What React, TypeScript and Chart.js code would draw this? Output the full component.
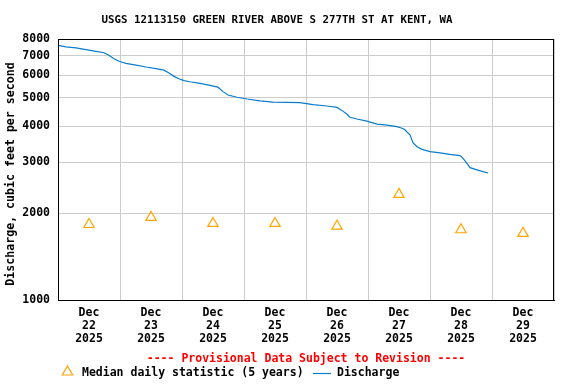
import React, { useEffect, useRef } from "react";
import { Chart, registerables } from "chart.js";

Chart.register(...registerables);

const TITLE = "USGS 12113150 GREEN RIVER ABOVE S 277TH ST AT KENT, WA";
const Y_TITLE = "Discharge, cubic feet per second";
const FOOTER = "---- Provisional Data Subject to Revision ----";
const LEGEND_MEDIAN = "Median daily statistic (5 years)";
const LEGEND_Q = "Discharge";

const dayMonth = "Dec";
const dayNumbers = ["22", "23", "24", "25", "26", "27", "28", "29"];
const dayYear = "2025";

const yTicks = [1000, 2000, 3000, 4000, 5000, 6000, 7000, 8000];

// median daily statistic at noon of each day (hours since Dec 22 00:00)
const medianHours = [12, 36, 60, 84, 108, 132, 156, 180];
const medianCfs = [1825, 1930, 1840, 1840, 1800, 2320, 1750, 1700];

// discharge, hours since Dec 22 00:00
const dischargeHours = [
  0, 3.1, 7.0, 10.8, 14.7, 17.8, 19.7, 21.7, 23.6, 26.3, 30.2, 34.1, 37.9, 41.0,
  43.0, 44.9, 46.8, 48.8, 51.1, 55.0, 58.8, 61.9, 63.9, 65.8, 69.3, 73.2, 78.2,
  83.2, 88.6, 93.7, 98.7, 104.1, 108.0, 109.9, 111.9, 113.0, 115.7, 119.6, 123.5,
  127.4, 131.2, 133.2, 134.3, 136.3, 137.4, 139.0, 140.9, 144.0, 147.9, 151.7,
  155.6, 156.8, 158.3, 159.5, 162.2, 164.5, 166.5,
];
const dischargeCfs = [
  7610, 7510, 7450, 7350, 7250, 7170, 7030, 6840, 6700, 6590, 6500, 6400, 6320,
  6240, 6100, 5940, 5830, 5740, 5690, 5620, 5530, 5450, 5260, 5120, 5030, 4960,
  4890, 4840, 4830, 4820, 4740, 4690, 4640, 4530, 4390, 4290, 4230, 4160, 4060,
  4030, 3980, 3930, 3880, 3720, 3500, 3390, 3320, 3260, 3230, 3190, 3160, 3090,
  2970, 2870, 2820, 2780, 2750,
];

const FONT = "'DejaVu Sans Mono', 'Liberation Mono', monospace";
const BLUE = "#0a7ccc";
const ORANGE = "#ffa500";

const decorPlugin = {
  id: "decor",
  afterDraw(chart: any) {
    const ctx = chart.ctx as CanvasRenderingContext2D;
    const area = chart.chartArea;
    ctx.save();
    // title
    ctx.fillStyle = "#000";
    ctx.font = `bold 10.8px ${FONT}`;
    ctx.textAlign = "center";
    ctx.textBaseline = "middle";
    ctx.fillText(TITLE, 277, 20);
    // y axis title
    ctx.save();
    ctx.translate(11, 174);
    ctx.rotate(-Math.PI / 2);
    ctx.font = `bold 11.6px ${FONT}`;
    ctx.fillText(Y_TITLE, 0, 0);
    ctx.restore();
    // footer
    ctx.fillStyle = "#ff0000";
    ctx.font = `bold 11.5px ${FONT}`;
    ctx.fillText(FOOTER, (area.left + area.right) / 2, 359);
    // legend
    const ly = 373;
    ctx.strokeStyle = ORANGE;
    ctx.lineWidth = 1.2;
    const tx = 67.5, ty = ly - 1, r = 6;
    ctx.beginPath();
    ctx.moveTo(tx, ty - r);
    ctx.lineTo(tx + r * 0.866, ty + r / 2);
    ctx.lineTo(tx - r * 0.866, ty + r / 2);
    ctx.closePath();
    ctx.stroke();
    ctx.fillStyle = "#000";
    ctx.textAlign = "left";
    ctx.fillText(LEGEND_MEDIAN, 82, ly);
    ctx.strokeStyle = BLUE;
    ctx.lineWidth = 1.2;
    ctx.beginPath();
    ctx.moveTo(313, ly + 0.5);
    ctx.lineTo(331, ly + 0.5);
    ctx.stroke();
    ctx.fillText(LEGEND_Q, 337, ly);
    ctx.restore();
  },
};

export default function App() {
  const ref = useRef<HTMLCanvasElement | null>(null);
  useEffect(() => {
    document.body.style.margin = "0";
    const canvas = ref.current!;
    const chart = new Chart(canvas, {
      type: "line",
      data: {
        datasets: [
          {
            label: LEGEND_Q,
            data: dischargeHours.map((h, i) => ({ x: h, y: dischargeCfs[i] })),
            borderColor: BLUE,
            borderWidth: 1.2,
            pointRadius: 0,
            tension: 0,
            fill: false,
          },
          {
            label: LEGEND_MEDIAN,
            data: medianHours.map((h, i) => ({ x: h, y: medianCfs[i] })),
            showLine: false,
            pointStyle: "triangle",
            pointRadius: 6,
            pointBorderColor: ORANGE,
            pointBackgroundColor: "rgba(0,0,0,0)",
            pointBorderWidth: 1.2,
            borderColor: ORANGE,
            backgroundColor: "rgba(0,0,0,0)",
          },
        ],
      },
      options: {
        animation: false,
        responsive: false,
        devicePixelRatio: 1,
        layout: { padding: { top: 39, right: 22, left: 0, bottom: 0 } },
        plugins: {
          legend: { display: false },
          title: { display: false },
          tooltip: { enabled: false },
        },
        scales: {
          x: {
            type: "linear",
            min: 0,
            max: 192,
            afterBuildTicks: (scale: any) => {
              const t = [];
              for (let v = 0; v <= 192; v += 12) t.push({ value: v });
              scale.ticks = t;
            },
            afterFit: (scale: any) => {
              scale.height = 84;
            },
            grid: {
              drawTicks: false,
              color: (c: any) =>
                c.tick && c.tick.value % 24 === 0 ? "#cccccc" : "rgba(0,0,0,0)",
              lineWidth: 1,
            },
            border: { color: "#000", width: 1 },
            ticks: {
              autoSkip: false,
              maxRotation: 0,
              padding: 7,
              color: "#000",
              font: { family: FONT, size: 11.5, weight: "bold", lineHeight: 1.12 },
              callback: (v: any) => {
                const n = Number(v);
                if (n % 24 !== 12) return "";
                const idx = (n - 12) / 24;
                return [dayMonth, dayNumbers[idx], dayYear];
              },
            },
          },
          y: {
            type: "logarithmic",
            min: 1000,
            max: 8000,
            afterBuildTicks: (scale: any) => {
              scale.ticks = yTicks.map((v) => ({ value: v }));
            },
            afterFit: (scale: any) => {
              scale.width = 58;
            },
            grid: { drawTicks: false, color: "#cccccc", lineWidth: 1 },
            border: { color: "#000", width: 1 },
            ticks: {
              padding: 8,
              color: "#000",
              font: { family: FONT, size: 11.5, weight: "bold" },
              callback: (v: any) => String(v),
            },
            title: { display: false },
          },
        },
      },
      plugins: [
        decorPlugin,
        {
          id: "frame",
          afterDraw(chart: any) {
            const { ctx, chartArea: a } = chart;
            ctx.save();
            ctx.strokeStyle = "#000";
            ctx.lineWidth = 1;
            ctx.strokeRect(Math.round(a.left) + 0.5, Math.round(a.top) + 0.5, Math.round(a.right - a.left) - 1, Math.round(a.bottom - a.top));
            ctx.restore();
          },
        },
      ],
    } as any);
    return () => chart.destroy();
  }, []);
  return (
    <div style={{ width: 576, height: 384, background: "#fff" }}>
      <canvas ref={ref} width={576} height={384} style={{ display: "block" }} />
    </div>
  );
}
